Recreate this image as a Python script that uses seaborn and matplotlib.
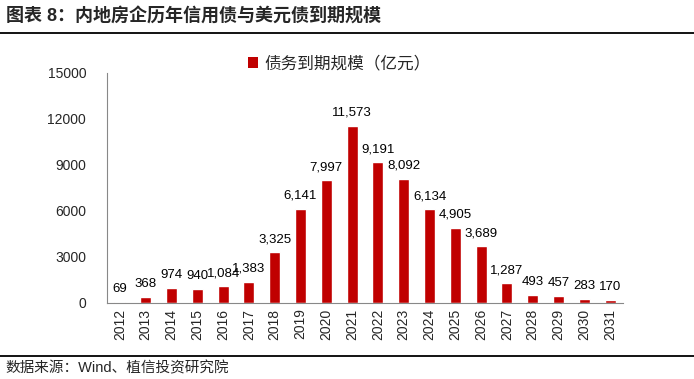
import numpy as np
import pandas as pd
import seaborn as sns
import matplotlib.pyplot as plt
from matplotlib.lines import Line2D
from matplotlib.patches import Patch

# 年份与到期规模（亿元）
years = ["2012", "2013", "2014", "2015", "2016", "2017", "2018", "2019", "2020", "2021",
         "2022", "2023", "2024", "2025", "2026", "2027", "2028", "2029", "2030", "2031"]
amounts = [69, 368, 974, 940, 1084, 1383, 3325, 6141, 7997, 11573,
           9191, 8092, 6134, 4905, 3689, 1287, 493, 457, 283, 170]
yticks = [0, 3000, 6000, 9000, 12000, 15000]

df = pd.DataFrame({"year": years, "amount": amounts})

sns.set_style("white")
plt.rcParams['font.family'] = ['Liberation Sans', 'Noto Sans CJK SC']

fig = plt.figure(figsize=(6.94, 3.79), dpi=100)
ax = fig.add_axes([107 / 694, 1 - 303 / 379, (623 - 107) / 694, (303 - 73) / 379])

sns.barplot(data=df, x="year", y="amount", color="#C00000", width=0.43,
            saturation=1, ax=ax)

# 数据标签
for i, v in enumerate(amounts):
    ax.annotate(f"{v:,}", (i, v), xytext=(0, 5), textcoords="offset points",
                ha="center", va="bottom", fontsize=9.5, color="#000000")

ax.set_xlim(-0.5, len(years) - 0.5)
ax.set_ylim(0, 15000)
ax.set_yticks(yticks)
ax.set_yticklabels([str(t) for t in yticks], fontsize=10)
ax.set_xlabel("")
ax.set_ylabel("")
ax.tick_params(axis="x", which="major", length=0, labelrotation=90, labelsize=10, pad=4)
ax.set_xticks(np.arange(-0.5, len(years)), minor=True)
ax.tick_params(axis="x", which="minor", length=5, color="#888888", width=0.8)
ax.tick_params(axis="y", length=5, color="#888888", width=0.8, pad=10)

for s in ["top", "right"]:
    ax.spines[s].set_visible(False)
for s in ["left", "bottom"]:
    ax.spines[s].set_color("#888888")
    ax.spines[s].set_linewidth(0.8)

# 图例
handle = Patch(facecolor="#C00000", edgecolor="none")
ax.legend([handle], ["债务到期规模（亿元）"], loc="upper center",
          bbox_to_anchor=(0.45, 1.14), frameon=False, fontsize=12,
          handlelength=0.6, handleheight=0.6, handletextpad=0.4)

# 标题与来源
fig.text(0.008, 1 - 17 / 379, "图表 8：内地房企历年信用债与美元债到期规模", fontsize=13,
         fontweight="bold", va="center", ha="left")
fig.text(0.008, 1 - 368 / 379, "数据来源：Wind、植信投资研究院", fontsize=10.5,
         va="center", ha="left")
fig.add_artist(Line2D([0, 1], [1 - 33 / 379] * 2, color="black", lw=1.3))
fig.add_artist(Line2D([0, 1], [1 - 356 / 379] * 2, color="black", lw=1.3))

fig.savefig("out.png", dpi=100)
